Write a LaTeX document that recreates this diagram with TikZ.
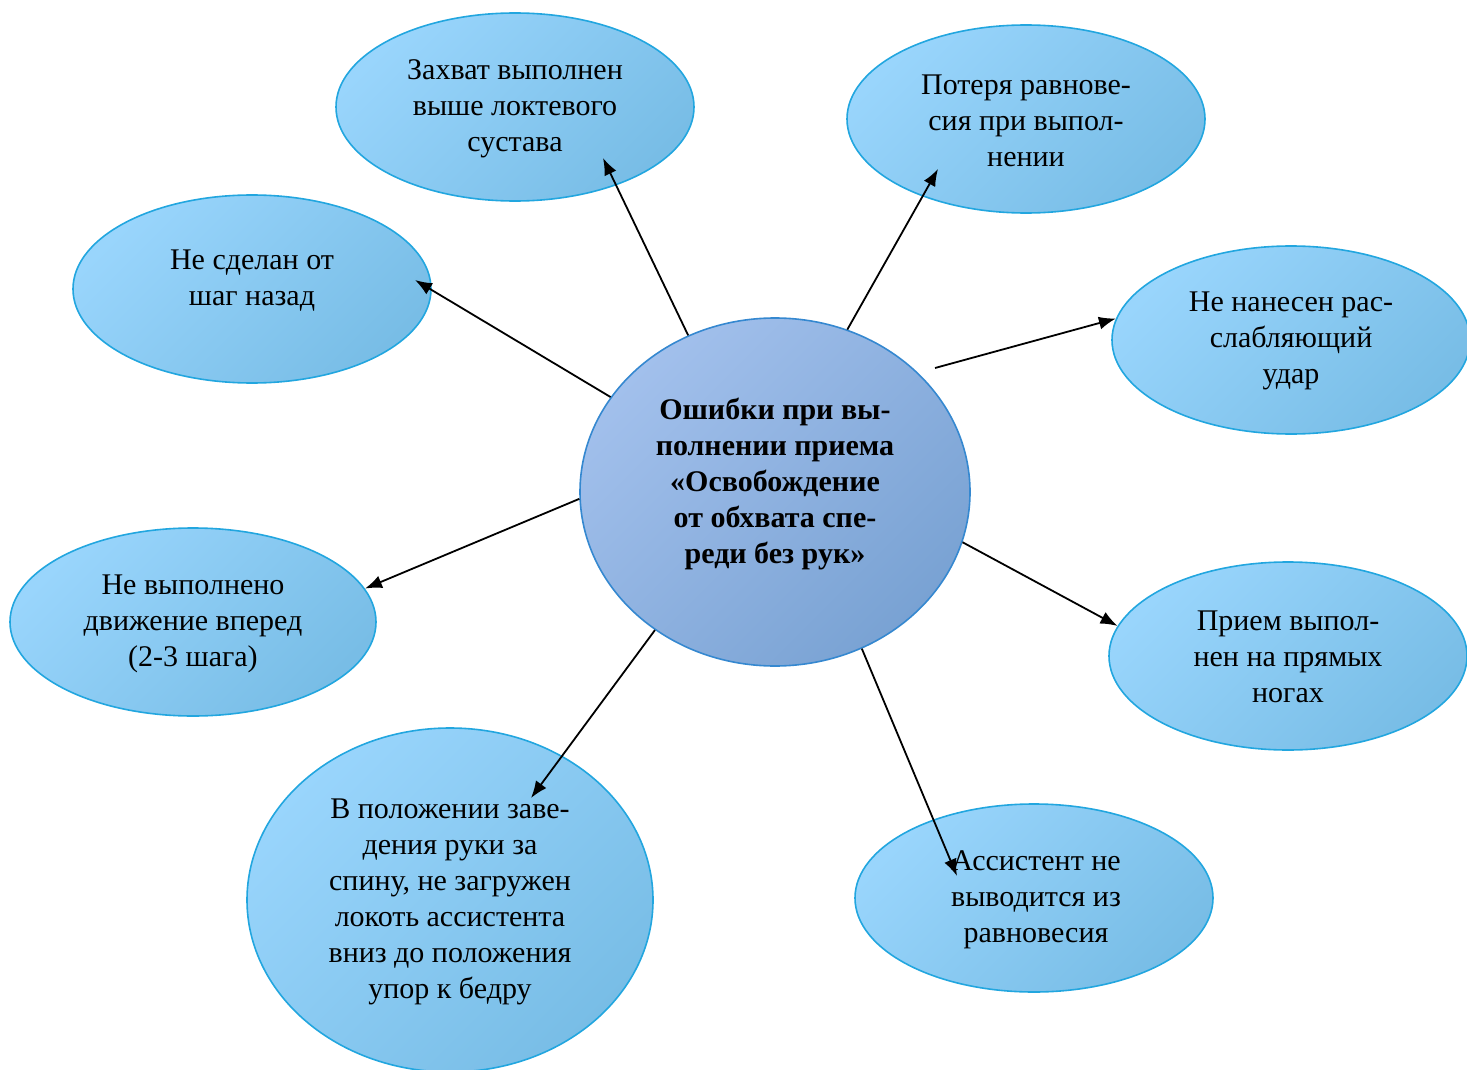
\documentclass[tikz,border=0pt]{standalone}
\usepackage{fontspec}
\setmainfont{Liberation Serif}
\usetikzlibrary{shapes.geometric,arrows.meta}
\definecolor{olight}{HTML}{99D5FC}
\definecolor{odark}{HTML}{78BDE6}
\definecolor{oborder}{HTML}{22A6DF}
\definecolor{clight}{HTML}{A2C0EC}
\definecolor{cdark}{HTML}{79A2D3}
\definecolor{cborder}{HTML}{3588D0}
\tikzset{
  oval/.style={ellipse, draw=oborder, line width=0.8pt, inner sep=0pt,
    left color=olight, right color=odark, shading angle=45,
    minimum width=179pt, minimum height=94pt},
  coval/.style={ellipse, draw=cborder, line width=0.8pt, inner sep=0pt,
    left color=clight, right color=cdark, shading angle=45,
    minimum width=195pt, minimum height=174pt},
  txt/.style={align=center, inner sep=0pt, font=\fontsize{15pt}{18pt}\selectfont},
  btxt/.style={txt, font=\fontsize{15pt}{18pt}\selectfont\bfseries},
  conn/.style={draw=black, line width=0.9pt, -{Latex[length=8.5pt,width=6.5pt]}}
}
\begin{document}
\begin{tikzpicture}[x=0.5pt,y=-0.5pt]
\useasboundingbox (0,0) rectangle (1467,1070);
% ellipses
\node[oval] (e1) at (515,107) {};
\node[oval] (e2) at (1026,119) {};
\node[oval] (e3) at (252,289) {};
\node[oval] (e4) at (1291,340) {};
\node[coval] (c) at (775,492) {};
\node[oval, minimum width=183pt] (e6) at (193,622) {};
\node[oval] (e7) at (1288,656) {};
\node[oval, minimum width=203pt, minimum height=172pt] (e8) at (450,900) {};
\node[oval] (e9) at (1034,898) {};
% texts
\node[txt] (t1) at (515,109) {Захват выполнен\\выше локтевого\\сустава};
\node[txt] (t2) at (1026,121) {Потеря равнове-\\сия при выпол-\\нении};
\node[txt] (t3) at (252,281) {Не сделан от\\шаг назад};
\node[txt] (t4) at (1291,341) {Не нанесен рас-\\слабляющий\\удар};
\node[btxt] (tc) at (775,484) {Ошибки при вы-\\полнении приема\\«Освобождение\\от обхвата спе-\\реди без рук»};
\node[txt] (t6) at (193,624) {Не выполнено\\движение вперед\\(2-3 шага)};
\node[txt] (t7) at (1288,657) {Прием выпол-\\нен на прямых\\ногах};
\node[txt] (t8) at (450,902) {В положении заве-\\дения руки за\\спину, не загружен\\локоть ассистента\\вниз до положения\\упор к бедру};
\node[txt] (t9) at (1036,900) {Ассистент не\\выводится из\\равновесия};
% free ends
\coordinate (p1) at (603,158);
\coordinate (p2) at (938,169);
\coordinate (p3) at (415,280);
\coordinate (s4) at (935,368);
\coordinate (p8) at (531,798);
\coordinate (p9) at (957,876);
% connectors
\draw[conn] (c.119.1) -- (p1);
\draw[conn] (c.66.2) -- (p2);
\draw[conn] (c.150.4) -- (p3);
\draw[conn] (s4) -- (e4.173.5);
\draw[conn] (c.182.3) -- (e6.11.6);
\draw[conn] (c.-15.3) -- (e7.170.9);
\draw[conn] (c.-131) -- (p8);
\draw[conn] (c.-61.7) -- (p9);
\end{tikzpicture}
\end{document}
